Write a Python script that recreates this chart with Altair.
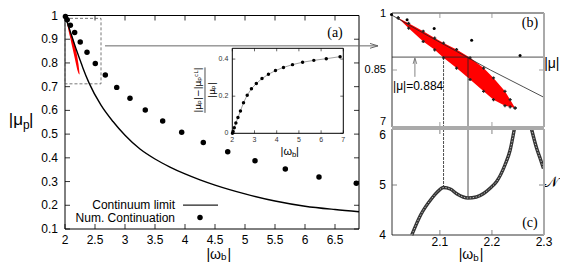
import altair as alt
import pandas as pd

# ---------------- data ----------------
# panel (a): continuum limit curve |mu_p| vs |omega_b|
cl_w = [2.007, 2.068, 2.132, 2.197, 2.26, 2.3, 2.4, 2.6, 2.8, 3.0, 3.25, 3.5, 3.75,
        4.0, 4.25, 4.5, 5.0, 5.5, 6.0, 6.5, 6.9]
cl_mu = [0.995, 0.947, 0.899, 0.850, 0.806, 0.778, 0.716, 0.622, 0.553, 0.495, 0.437,
         0.395, 0.361, 0.332, 0.307, 0.285, 0.248, 0.218, 0.196, 0.182, 0.173]
# panel (a): numerical continuation points
nc_w = [2.007, 2.037, 2.089, 2.161, 2.254, 2.367, 2.505, 2.672, 2.862, 3.083, 3.338,
        3.628, 3.945, 4.305, 4.712, 5.167, 5.672, 6.233, 6.855]
nc_mu = [0.996, 0.982, 0.959, 0.928, 0.888, 0.845, 0.798, 0.749, 0.697, 0.651, 0.602,
         0.555, 0.508, 0.465, 0.426, 0.388, 0.353, 0.319, 0.293]
# inset: relative difference (|mu_p|-|mu_p^CL|)/|mu_p|
rel_diff = [0.0, 0.01, 0.03, 0.055, 0.085, 0.12, 0.165, 0.205, 0.24, 0.268, 0.295,
            0.318, 0.338, 0.355, 0.37, 0.383, 0.393, 0.402, 0.413]
# red region (upper and lower edge)
red_w = [2.020, 2.040, 2.068, 2.090, 2.107, 2.132, 2.158, 2.184, 2.203, 2.225, 2.235, 2.2445]
red_hi = [0.987, 0.973, 0.952, 0.934, 0.921, 0.904, 0.882, 0.855, 0.829, 0.794, 0.772, 0.750]
red_lo = [0.987, 0.960, 0.925, 0.903, 0.882, 0.855, 0.825, 0.794, 0.772, 0.756, 0.753, 0.750]
# panel (c): N vs |omega_b|
cL_w = [2.046, 2.063, 2.085, 2.095, 2.107, 2.120, 2.133, 2.154, 2.170, 2.184, 2.197,
        2.209, 2.225, 2.235, 2.243]
cL_n = [4.0, 4.4, 4.74, 4.86, 4.95, 4.92, 4.82, 4.74, 4.76, 4.83, 4.94, 5.07, 5.4, 5.7, 6.12]
cR_w = [2.276, 2.286, 2.293, 2.299]
cR_n = [6.12, 5.73, 5.52, 5.33]
mu_level = 0.884
w_marks = [2.107, 2.154]
n_marks = [4.95, 4.74]

# ticks
a_xt = [2, 2.5, 3, 3.5, 4, 4.5, 5, 5.5, 6, 6.5]
a_xl = ['2', '2.5', '3', '3.5', '4', '4.5', '5', '5.5', '6', '6.5']
a_yt = [0.1, 0.2, 0.3, 0.4, 0.5, 0.6, 0.7, 0.8, 0.9, 1.0]
a_yl = ['0.1', '0.2', '0.3', '0.4', '0.5', '0.6', '0.7', '0.8', '0.9', '1']
i_xt = [2, 3, 4, 5, 6, 7]
i_xl = ['2', '3', '4', '5', '6', '7']
i_yt = [0, 0.2, 0.4]
i_yl = ['0', '0.2', '0.4']
r_xt = [2.1, 2.2, 2.3]
r_xl = ['2.1', '2.2', '2.3']
b_yt = [0.714, 0.85, 0.997]
b_yl = ['7', '0.85', '1']
c_yt = [4, 5, 6]
c_yl = ['4', '5', '6']

FONT = "Liberation Sans"
SERIF = "Liberation Serif"

# ---------------- scales (pixel ranges inside one canvas) ----------------
def S(dom, rng):
    return alt.Scale(domain=dom, range=rng, zero=False, nice=False)

XA, YA = S([2, 6.9], [57, 351]), S([0.1, 1.0], [221, 7.5])
XI, YI = S([2, 7], [224.3, 335.3]), S([0, 0.458], [125.3, 40.3])
XR = S([2.008, 2.3], [384, 536])
YB = S([0.7, 1.0], [119, 5])
YC = S([4, 6.12], [227, 121])


def E(xs, ys, **kw):
    d = dict(x=alt.X('x:Q', scale=xs, axis=None), y=alt.Y('y:Q', scale=ys, axis=None))
    d.update(kw)
    return d


def df(**cols):
    return pd.DataFrame(cols)


def frame(xs, ys, xd, yd, color='black', width=1.0, dash=None, fill='white'):
    kw = dict(stroke=color, strokeWidth=width, fill=fill)
    if dash:
        kw['strokeDash'] = dash
    if fill == 'none':
        kw.pop('fill')
        kw['fillOpacity'] = 0
    return alt.Chart(df(x=[xd[0]], x2=[xd[1]], y=[yd[0]], y2=[yd[1]])).mark_rect(**kw).encode(
        **E(xs, ys, x2=alt.X2('x2'), y2=alt.Y2('y2')))


def ticks(xs, ys, xd, yd, xt, yt, L, color='black', width=0.8):
    out = []
    out.append(alt.Chart(df(x=xt, y=[yd[0]] * len(xt))).mark_rule(y2Offset=-L, color=color, strokeWidth=width)
               .encode(**E(xs, ys, y2=alt.Y2('y'))))
    out.append(alt.Chart(df(x=xt, y=[yd[1]] * len(xt))).mark_rule(y2Offset=L, color=color, strokeWidth=width)
               .encode(**E(xs, ys, y2=alt.Y2('y'))))
    out.append(alt.Chart(df(x=[xd[0]] * len(yt), y=yt)).mark_rule(x2Offset=L, color=color, strokeWidth=width)
               .encode(**E(xs, ys, x2=alt.X2('x'))))
    out.append(alt.Chart(df(x=[xd[1]] * len(yt), y=yt)).mark_rule(x2Offset=-L, color=color, strokeWidth=width)
               .encode(**E(xs, ys, x2=alt.X2('x'))))
    return out


def labels(xs, ys, xv, yv, texts, size, align='center', dx=0, dy=0, font=FONT, angle=0, color='black'):
    kw = dict(align=align, baseline='middle', dx=dx, dy=dy, font=font, fontSize=size, color=color)
    if angle:
        kw['angle'] = angle
    return alt.Chart(df(x=xv, y=yv, t=texts)).mark_text(**kw).encode(**E(xs, ys, text='t:N'))


def subtitle(xs, ys, x, y, head, sub, tail, size, tail_dx, sub_dy):
    return [
        labels(xs, ys, [x], [y], [head], size, align='right'),
        labels(xs, ys, [x], [y], [sub], size * 0.7, align='left', dy=sub_dy),
        labels(xs, ys, [x], [y], [tail], size, align='left', dx=tail_dx),
    ]


# ---------------- panel (a) ----------------
a = [frame(XA, YA, [2, 6.9], [0.1, 1.0])]
a += ticks(XA, YA, [2, 6.9], [0.1, 1.0], a_xt, a_yt, 5)
a.append(frame(XA, YA, [2.0, 2.6], [0.712, 0.988], color='#555', width=0.8, dash=[3, 2], fill='none'))
a.append(alt.Chart(df(x=red_w, y=red_hi, y2=red_lo)).mark_area(color='#ff0000')
         .encode(**E(XA, YA, y2=alt.Y2('y2'))))
a.append(alt.Chart(df(x=cl_w, y=cl_mu)).mark_line(color='black', strokeWidth=1.4, interpolate='monotone')
         .encode(**E(XA, YA)))
a.append(alt.Chart(df(x=nc_w, y=nc_mu)).mark_circle(color='black', size=30, opacity=1)
         .encode(**E(XA, YA)))
# arrow from the zoom box to panel (b)
a.append(alt.Chart(df(x=[2.667], x2=[7.217], y=[0.872])).mark_rule(color='#666', strokeWidth=1)
         .encode(**E(XA, YA, x2=alt.X2('x2'))))
a.append(alt.Chart(df(x=[7.15], y=[0.872])).mark_point(shape='M-1,-0.6L1,0L-1,0.6', size=64, filled=False,
                                                       color='#666', strokeWidth=1, opacity=1)
         .encode(**E(XA, YA)))
# legend
a.append(labels(XA, YA, [3.833, 3.833], [0.201, 0.148], ['Continuum limit', 'Num. Continuation'], 12, align='right'))
a.append(alt.Chart(df(x=[3.967], x2=[4.55], y=[0.201])).mark_rule(color='#222', strokeWidth=1.2)
         .encode(**E(XA, YA, x2=alt.X2('x2'))))
a.append(alt.Chart(df(x=[4.25], y=[0.148])).mark_circle(color='black', size=30, opacity=1).encode(**E(XA, YA)))
a.append(labels(XA, YA, [6.5], [0.926], ['(a)'], 14, font=SERIF))
# tick labels
a.append(labels(XA, YA, a_xt, [0.1] * len(a_xt), a_xl, 12, dy=11))
a.append(labels(XA, YA, [2] * len(a_yt), a_yt, a_yl, 12, align='right', dx=-7))
# axis titles
a += subtitle(XA, YA, 1.3, 0.559, '|μ', 'p', '|', 17, 6, 5)
a += subtitle(XA, YA, 4.6, -0.008, '|ω', 'b', '|', 14, 6.5, 2.5)

# ---------------- inset ----------------
ins = [frame(XI, YI, [2, 7], [0, 0.458])]
ins += ticks(XI, YI, [2, 7], [0, 0.458], i_xt, i_yt, 3, width=0.6)
ins.append(alt.Chart(df(x=nc_w, y=rel_diff)).mark_line(color='#888', strokeWidth=0.8).encode(**E(XI, YI)))
ins.append(alt.Chart(df(x=nc_w, y=rel_diff)).mark_circle(color='black', size=12, opacity=1).encode(**E(XI, YI)))
ins.append(labels(XI, YI, i_xt, [0] * len(i_xt), i_xl, 7, dy=7, color='#333'))
ins.append(labels(XI, YI, [2] * len(i_yt), i_yt, i_yl, 7, align='right', dx=-4, color='#333'))
ins += subtitle(XI, YI, 4.69, -0.1, '|ω', 'b', '|', 11, 4, 3)
ins.append(labels(XI, YI, [0.455], [0.233], ['|μₚ|−|μₚᶜᴸ|'], 9, angle=270, font='DejaVu Sans'))
ins.append(alt.Chart(df(x=[0.77], y=[0.11], y2=[0.355])).mark_rule(color='black', strokeWidth=0.7)
           .encode(**E(XI, YI, y2=alt.Y2('y2'))))
ins.append(labels(XI, YI, [1.085], [0.233], ['|μₚ|'], 9, angle=270, font='DejaVu Sans'))

# ---------------- panel (b) ----------------
b = [frame(XR, YB, [2.008, 2.3], [0.7, 1.0], width=0.8)]
b += ticks(XR, YB, [2.008, 2.3], [0.7, 1.0], [2.1, 2.2], [0.85], 5, color='#888')
b.append(alt.Chart(df(x=red_w, y=red_hi, y2=red_lo)).mark_area(color='#ff0000')
         .encode(**E(XR, YB, y2=alt.Y2('y2'))))
b.append(alt.Chart(df(x=red_w + red_w, y=red_hi + red_lo)).mark_point(shape='cross', size=10, filled=True,
                                                                       color='#222', opacity=1)
         .encode(**E(XR, YB)))
b.append(alt.Chart(df(x=cl_w[:6], y=cl_mu[:6])).mark_line(color='#222', strokeWidth=0.8).encode(**E(XR, YB)))
b.append(alt.Chart(df(x=nc_w[:5], y=nc_mu[:5])).mark_circle(color='black', size=9, opacity=1).encode(**E(XR, YB)))
b.append(alt.Chart(df(x=[2.008], x2=[2.3], y=[mu_level])).mark_rule(color='#222', strokeWidth=0.8)
         .encode(**E(XR, YB, x2=alt.X2('x2'))))
b.append(alt.Chart(df(x=[w_marks[0]], y=[mu_level], y2=[0.7])).mark_rule(color='#222', strokeWidth=0.8,
                                                                          strokeDash=[3, 1])
         .encode(**E(XR, YB, y2=alt.Y2('y2'))))
b.append(alt.Chart(df(x=[w_marks[1]], y=[mu_level], y2=[0.7])).mark_rule(color='#222', strokeWidth=0.8)
         .encode(**E(XR, YB, y2=alt.Y2('y2'))))
b.append(alt.Chart(df(x=[2.052], y=[0.832], y2=[0.879])).mark_rule(color='#666', strokeWidth=0.8)
         .encode(**E(XR, YB, y2=alt.Y2('y2'))))
b.append(alt.Chart(df(x=[2.052], y=[0.874])).mark_point(shape='M-0.6,1L0,-1L0.6,1', size=36, filled=False,
                                                        color='#666', strokeWidth=0.8, opacity=1)
         .encode(**E(XR, YB)))
b.append(labels(XR, YB, [2.010], [0.808], ['|μ|=0.884'], 12, align='left'))
b.append(labels(XR, YB, [2.273], [0.974], ['(b)'], 14, font=SERIF))
b.append(labels(XR, YB, [2.315], [0.866], ['|μ|'], 14))
b.append(labels(XR, YB, [2.008] * len(b_yt), b_yt, b_yl, 11, align='right', dx=-6))
b.append(alt.Chart(df(x=[2.008], x2=[2.3], y=[0.7])).mark_rule(color='#aaa', strokeWidth=2)
         .encode(**E(XR, YB, x2=alt.X2('x2'))))
b.append(alt.Chart(df(x=[2.3], y=[0.7], y2=[1.0])).mark_rule(color='#aaa', strokeWidth=2)
         .encode(**E(XR, YB, y2=alt.Y2('y2'))))

# ---------------- panel (c) ----------------
c = [frame(XR, YC, [2.008, 2.3], [4, 6.12], width=0.8)]
c += ticks(XR, YC, [2.008, 2.3], [4, 6.12], [2.1, 2.2], [5], 5, color='#666')
for i in range(2):
    kw = dict(color='#222', strokeWidth=0.8)
    if i == 0:
        kw['strokeDash'] = [3, 1]
    c.append(alt.Chart(df(x=[w_marks[i]], y=[6.12], y2=[n_marks[i]])).mark_rule(**kw)
             .encode(**E(XR, YC, y2=alt.Y2('y2'))))
for xs_, ys_ in [(cL_w, cL_n), (cR_w, cR_n)]:
    c.append(alt.Chart(df(x=xs_, y=ys_)).mark_line(color='#333', strokeWidth=3.4, interpolate='monotone')
             .encode(**E(XR, YC)))
    c.append(alt.Chart(df(x=xs_, y=ys_)).mark_line(color='#bbb', strokeWidth=1.0, strokeDash=[1.5, 1.5],
                                                   interpolate='monotone')
             .encode(**E(XR, YC)))
c.append(labels(XR, YC, [2.273], [4.24], ['(c)'], 14, font=SERIF))
c.append(labels(XR, YC, [2.314], [5.06], ['𝒩'], 15, font=SERIF))
c.append(labels(XR, YC, r_xt, [4] * len(r_xt), r_xl, 12, dy=7))
c.append(labels(XR, YC, [2.008] * len(c_yt), c_yt, c_yl, 12, align='right', dx=-6))
c += subtitle(XR, YC, 2.164, 3.6, '|ω', 'b', '|', 14, 6.5, 2.5)
c.append(alt.Chart(df(x=[2.008], x2=[2.3], y=[6.12])).mark_rule(color='#aaa', strokeWidth=2)
         .encode(**E(XR, YC, x2=alt.X2('x2'))))
c.append(alt.Chart(df(x=[2.3], y=[4], y2=[6.12])).mark_rule(color='#aaa', strokeWidth=2)
         .encode(**E(XR, YC, y2=alt.Y2('y2'))))

chart = alt.layer(
    alt.layer(*a), alt.layer(*ins), alt.layer(*b), alt.layer(*c)
).resolve_scale(x='independent', y='independent').properties(
    width=552, height=255, autosize=alt.AutoSizeParams(type='none'), padding=0,
    background='white'
).configure_view(stroke=None)

chart.save("out.html", embed_options={"renderer": "svg", "actions": False})
